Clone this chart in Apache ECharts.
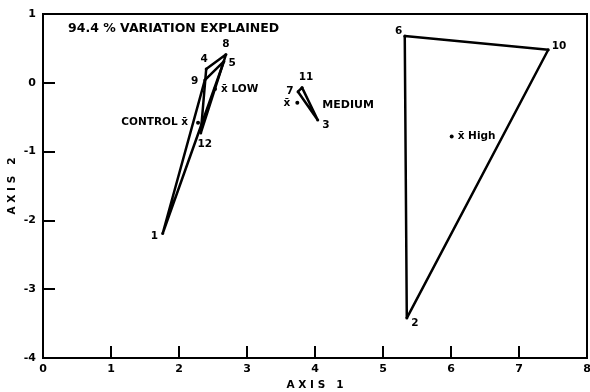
<!DOCTYPE html>
<html><head><meta charset="utf-8">
<script src="https://cdn.jsdelivr.net/npm/echarts@6/dist/echarts.min.js"></script>
<style>html,body{margin:0;padding:0;background:#fff}#c{width:590px;height:392px}</style>
</head><body><div id="c"></div>
<script>
// ---- data ----
const sampleIds = ['1','2','3','4','5','6','7','8','9','10','11','12'];
const axis1Values = [1.76, 5.35, 4.04, 2.40, 2.66, 5.32, 3.75, 2.69, 2.38, 7.43, 3.81, 2.32];
const axis2Values = [-2.19, -3.42, -0.54, 0.20, 0.31, 0.68, -0.13, 0.41, 0.04, 0.48, -0.07, -0.73];
const groupNames = ['CONTROL', 'LOW', 'MEDIUM', 'HIGH'];
const groupMembers = [[1, 9, 5], [4, 8, 12], [7, 11, 3], [6, 10, 2]];
const meanAxis1 = [2.28, 2.53, 3.74, 6.01];
const meanAxis2 = [-0.58, -0.09, -0.29, -0.78];
const meanLabels = ['CONTROL x\u0304', 'x\u0304 LOW', 'x\u0304', 'x\u0304 High'];
const extraLabel = 'MEDIUM';
const xTickLabels = ['0','1','2','3','4','5','6','7','8'];
const yTickLabels = ['-4','-3','-2','-1','0','1'];
const titleText = '94.4 % VARIATION EXPLAINED';
const xName = 'A X I S   1';
const yName = 'A X I S   2';

// ---- style config (label placement) ----
const FONT = 'DejaVu Sans';
const numLabelPlace = {
  '1': ['left', [0, 3]], '2': ['right', [0, 5]], '3': ['right', [0, 5]],
  '4': ['top', [-2, 0]], '5': ['right', [0, 2]], '6': ['left', [2, -5]],
  '7': ['left', [0, 0]], '8': ['top', [0, 0]], '9': ['left', [-2, 1]],
  '10': ['right', [-1, -4]], '11': ['top', [4, 0]], '12': ['bottom', [4, 1]]
};
const meanLabelPlace = [['left', [-4, 0]], ['right', [0, 0]], ['left', [-1, 1]], ['right', [0, 0]]];

const polySeries = groupMembers.map((m, gi) => {
  const pts = m.map(id => [axis1Values[id - 1], axis2Values[id - 1]]);
  pts.push(pts[0]);
  return {
    name: groupNames[gi], type: 'line', data: pts, symbol: 'none', z: 2,
    lineStyle: { color: '#000', width: 2.5 }, silent: true, animation: false
  };
});

const labelBase = { color: '#000', opacity: 1, fontFamily: FONT, fontWeight: 'bold', fontSize: 10.5, textBorderWidth: 0 };

const pointSeries = {
  type: 'scatter', z: 3, animation: false, symbolSize: 3,
  itemStyle: { color: '#000', opacity: 1 },
  data: sampleIds.map((id, i) => ({
    value: [axis1Values[i], axis2Values[i]],
    label: Object.assign({ show: true, formatter: id, position: numLabelPlace[id][0],
      offset: numLabelPlace[id][1], distance: 3 }, labelBase)
  }))
};

const meanSeries = {
  type: 'scatter', z: 3, animation: false, symbolSize: 4,
  itemStyle: { color: '#000', opacity: 1 },
  data: meanAxis1.map((x, i) => ({
    value: [x, meanAxis2[i]],
    label: Object.assign({ show: true, formatter: meanLabels[i], position: meanLabelPlace[i][0],
      offset: meanLabelPlace[i][1], distance: 4 }, labelBase)
  }))
};

const mediumNameSeries = {
  type: 'scatter', z: 3, animation: false, symbolSize: 0,
  itemStyle: { color: '#000', opacity: 1 },
  data: [{
    value: [meanAxis1[2], meanAxis2[2]],
    label: Object.assign({ show: true, formatter: extraLabel, position: 'right', offset: [20, 2] },
      labelBase, { fontSize: 11 })
  }]
};

const chart = echarts.init(document.getElementById('c'), null, { renderer: 'canvas' });
chart.setOption({
  backgroundColor: '#fff',
  animation: false,
  title: {
    text: titleText, left: 63, top: 17,
    textStyle: { fontFamily: FONT, fontWeight: 'bold', fontSize: 12.5, color: '#000' }
  },
  grid: { left: 43, right: 3, top: 14, bottom: 34, show: true, borderColor: '#000', borderWidth: 2,
    containLabel: false, outerBoundsMode: 'none' },
  xAxis: {
    type: 'value', min: 0, max: 8, interval: 1,
    name: xName, nameLocation: 'middle', nameGap: 22, nameMoveOverlap: false,
    nameTextStyle: { fontFamily: FONT, fontWeight: 'bold', fontSize: 10.5, color: '#000' },
    axisLine: { show: true, onZero: false, lineStyle: { color: '#000', width: 2 } },
    axisTick: { show: true, inside: true, length: 12, lineStyle: { color: '#000', width: 2 } },
    axisLabel: { margin: 6, color: '#000', fontFamily: FONT, fontWeight: 'bold', fontSize: 11,
      formatter: v => xTickLabels[Math.round(v)] },
    splitLine: { show: false }
  },
  yAxis: {
    type: 'value', min: -4, max: 1, interval: 1,
    name: yName, nameLocation: 'middle', nameGap: 25, nameRotate: 90, nameMoveOverlap: false,
    nameTextStyle: { fontFamily: FONT, fontWeight: 'bold', fontSize: 10.5, color: '#000' },
    axisLine: { show: true, onZero: false, lineStyle: { color: '#000', width: 2 } },
    axisTick: { show: true, inside: true, length: 12, lineStyle: { color: '#000', width: 2 } },
    axisLabel: { margin: 7, color: '#000', fontFamily: FONT, fontWeight: 'bold', fontSize: 11,
      formatter: v => yTickLabels[Math.round(v) + 4] },
    splitLine: { show: false }
  },
  series: [...polySeries, pointSeries, meanSeries, mediumNameSeries]
});
</script></body></html>
